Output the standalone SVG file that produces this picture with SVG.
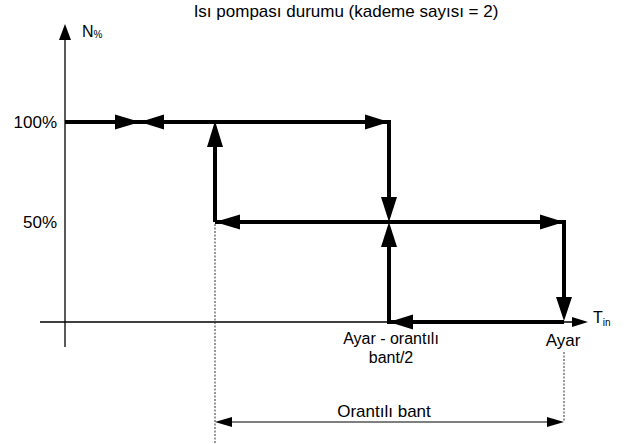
<svg xmlns="http://www.w3.org/2000/svg" width="633" height="444" viewBox="0 0 633 444">
<style>
text{font-family:"Liberation Sans",Arial,sans-serif;fill:#000}
.t{font-size:17px}
.sub{font-size:10px}
.thin{stroke:#000;stroke-width:1.3;fill:none}
.thick{stroke:#000;stroke-width:4;fill:none;stroke-linecap:butt}
.dot{stroke:#333;stroke-width:1;stroke-dasharray:2,1.5;fill:none}
.ah{fill:#000;stroke:none}
</style>
<rect width="633" height="444" fill="#fff"/>
<g id="title"><text class="t" x="346" y="17" text-anchor="middle">Isı pompası durumu (kademe sayısı = 2)</text></g>
<g id="axes">
<line class="thin" x1="65" y1="38" x2="65" y2="347"/>
<polygon class="ah" points="65,24 59,40 71,40"/>
<line class="thin" x1="40" y1="322" x2="574" y2="322"/>
<polygon class="ah" points="588,322 572,317 572,327"/>
<text class="t" x="82" y="37" style="font-size:16px">N<tspan class="sub" dy="1">%</tspan></text>
<text class="t" x="593" y="323" style="font-size:16px">T<tspan class="sub" dy="3">in</tspan></text>
<text class="t" x="57" y="128" text-anchor="end">100%</text>
<text class="t" x="57" y="228" text-anchor="end">50%</text>
</g>
<g id="connectors">
<line class="thick" x1="65" y1="122" x2="389" y2="122"/>
<polygon class="ah" points="140,122 115,114.5 115,129.5"/>
<polygon class="ah" points="140,122 164,114.5 164,129.5"/>
<polygon class="ah" points="389,122 365,114.5 365,129.5"/>
<line class="thick" x1="215" y1="222" x2="215" y2="140"/>
<polygon class="ah" points="215,121 207,147 223,147"/>
<line class="thick" x1="389" y1="120" x2="389" y2="205"/>
<polygon class="ah" points="389,222 381,197 397,197"/>
<line class="thick" x1="215" y1="222" x2="564" y2="222"/>
<polygon class="ah" points="215,222 240,214.5 240,229.5"/>
<polygon class="ah" points="564,222 540,214.5 540,229.5"/>
<line class="thick" x1="389" y1="324" x2="389" y2="240"/>
<polygon class="ah" points="389,222 381,247 397,247"/>
<line class="thick" x1="564" y1="220" x2="564" y2="305"/>
<polygon class="ah" points="564,321 556,297 572,297"/>
<line class="thick" x1="389" y1="322" x2="564" y2="322"/>
<polygon class="ah" points="389,322 413,314.5 413,329.5"/>
</g>
<g id="dimension">
<line class="dot" x1="215" y1="224" x2="215" y2="444"/>
<line class="dot" x1="564" y1="352" x2="564" y2="422"/>
<line class="thin" x1="225" y1="422" x2="555" y2="422" style="stroke-width:1.2"/>
<polygon class="ah" points="215,422 232,417 232,427"/>
<polygon class="ah" points="564,422 547,417 547,427"/>
<text class="t" x="384" y="417" text-anchor="middle">Orantılı bant</text>
</g>
<g id="labels">
<text class="t" x="391" y="344" text-anchor="middle" style="font-size:16px">Ayar - orantılı</text>
<text class="t" x="391" y="363" text-anchor="middle" style="font-size:16px">bant/2</text>
<text class="t" x="563" y="346" text-anchor="middle">Ayar</text>
</g>
</svg>
